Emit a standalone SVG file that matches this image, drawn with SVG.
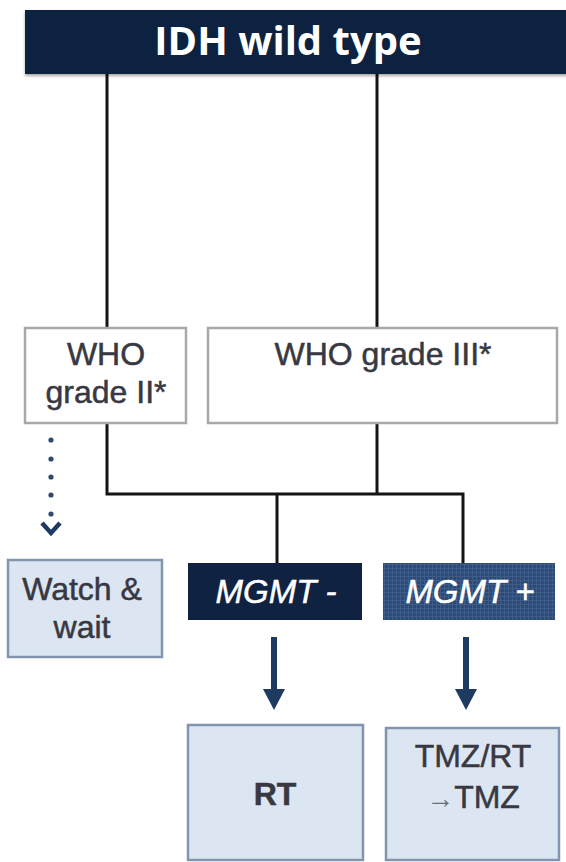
<svg xmlns="http://www.w3.org/2000/svg" width="566" height="862" viewBox="0 0 566 862">
<style>
.t{font-family:"Liberation Sans",Arial,sans-serif;font-size:32px;fill:#383842;text-anchor:middle;stroke:#383842;stroke-width:0.5}
.w{fill:#ffffff;stroke:#ffffff;font-style:italic;font-size:33px}
.ln{stroke:#141414;stroke-width:3;fill:none;stroke-linecap:square}
.wb{fill:#ffffff;stroke:#a8a8a8;stroke-width:2.5}
.lb{fill:#dce6f2;stroke:#8394ae;stroke-width:2.5}
.ar{stroke:#1f3a60;stroke-width:6;fill:none}
</style>
<defs>
<pattern id="grid" width="4" height="4" patternUnits="userSpaceOnUse">
<rect width="4" height="4" fill="#2c4a75"/>
<path d="M0 0.5H4M0.5 0V4" stroke="#3e5c88" stroke-width="1"/>
</pattern>
<filter id="sh" x="-5%" y="-10%" width="110%" height="130%">
<feDropShadow dx="0" dy="2" stdDeviation="1.5" flood-color="#000" flood-opacity="0.35"/>
</filter>
</defs>
<rect width="566" height="862" fill="#ffffff"/>
<g id="connectors">
<path class="ln" d="M107 74V328M377 74V328"/>
<path class="ln" d="M107 423V494H463V563M377 423V494M277 494V563"/>
<g fill="#2f4a70">
<circle cx="51" cy="440" r="2.6"/><circle cx="51" cy="459" r="2.6"/><circle cx="51" cy="477" r="2.6"/><circle cx="51" cy="495" r="2.6"/><circle cx="51" cy="514" r="2.6"/>
</g>
<polyline points="42,523 51,533 60,523" fill="none" stroke="#1f3864" stroke-width="4.5"/>
<line class="ar" x1="274" y1="637" x2="274" y2="692"/>
<polygon points="263,689 285,689 274,710" fill="#1f3a60"/>
<line class="ar" x1="466" y1="637" x2="466" y2="692"/>
<polygon points="455,689 477,689 466,710" fill="#1f3a60"/>
</g>
<g id="idh">
<rect x="25" y="10" width="560" height="64" fill="#10233f" filter="url(#sh)"/>
<text x="288" y="55" font-family="'Open Sans',sans-serif" font-weight="bold" font-size="40" fill="#ffffff" text-anchor="middle">IDH wild type</text>
</g>
<g id="who2">
<rect class="wb" x="25" y="328" width="161" height="95"/>
<text class="t" x="106" y="365">WHO</text>
<text class="t" x="106" y="403">grade II*</text>
</g>
<g id="who3">
<rect class="wb" x="208" y="328" width="349" height="95"/>
<text class="t" x="383" y="365">WHO grade III*</text>
</g>
<g id="watch">
<rect class="lb" x="8" y="560" width="154" height="97"/>
<text class="t" x="82" y="600">Watch &amp;</text>
<text class="t" x="82" y="638">wait</text>
</g>
<g id="mgmtneg">
<rect x="188" y="563" width="174" height="57" fill="#0f2241"/>
<text class="t w" x="276" y="603">MGMT -</text>
</g>
<g id="mgmtpos">
<rect x="383" y="563" width="172" height="57" fill="url(#grid)"/>
<text class="t w" x="470" y="603">MGMT +</text>
</g>
<g id="rt">
<rect class="lb" x="188" y="725" width="175" height="135"/>
<text class="t" x="275" y="805" font-weight="bold" font-size="34" stroke-width="0">RT</text>
</g>
<g id="tmz">
<rect class="lb" x="386" y="728" width="173" height="132"/>
<text class="t" x="473" y="767">TMZ/RT</text>
<text class="t" x="473" y="808"><tspan font-size="28" fill="#6a7080" stroke-width="0">→</tspan>TMZ</text>
</g>
</svg>
